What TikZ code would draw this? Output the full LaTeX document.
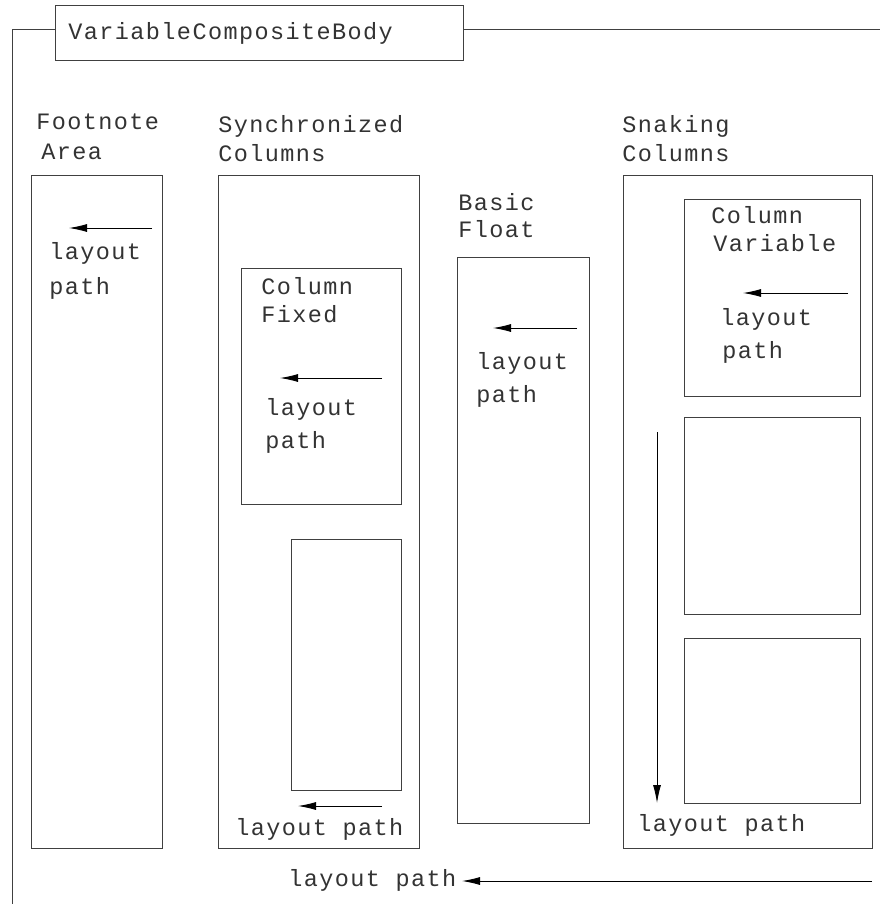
\documentclass[tikz,border=0pt]{standalone}
\usepackage{fontspec}
\setmainfont{Liberation Mono}[LetterSpace=6.0]
\usetikzlibrary{arrows.meta}

\begin{document}
\begin{tikzpicture}[x=1pt,y=-1pt,line width=0.9pt,
  frame/.style={draw=black!75},
  lbl/.style={anchor=base west,inner sep=0pt,text=black!80,font=\fontsize{23.5}{28}\selectfont},
  patharrow/.style={draw=black,-{Latex[length=18pt,width=8pt]}}]
\useasboundingbox (0,0) rectangle (880,904);

% body frame with its title
\node (title) [frame,anchor=north west,minimum height=55pt,text width=382pt,
      inner xsep=13pt,inner ysep=0pt,align=left,text=black!80,
      font=\fontsize{23.5}{28}\selectfont]
      at (55,5) {VariableCompositeBody};
\coordinate (corner) at (12,29);
\draw[frame] (title.west |- corner) -- (corner) -- (12,904);
\draw[frame] (title.east |- corner) -- (880,29);

% footnote area
\node[lbl] (fnA) at (36,130) {Footnote};
\node[lbl] (fnB) at (41,160) {Area};
\draw[frame] (31,175) rectangle (162,848);
\coordinate (fnS) at (152,228); \coordinate (fnE) at (69,228);
\draw[patharrow] (fnS) -- (fnE);
\node[lbl] (fnL) at (49,259) {layout};
\node[lbl] (fnP) at (49,294) {path};

% synchronized columns
\node[lbl] (syA) at (218,133) {Synchronized};
\node[lbl] (syB) at (218,162) {Columns};
\draw[frame] (218,175) rectangle (419,848);
\draw[frame] (241,268) rectangle (401,504);
\node[lbl] (cfA) at (261,294) {Column};
\node[lbl] (cfB) at (261,322) {Fixed};
\coordinate (cfS) at (382,378); \coordinate (cfE) at (280,378);
\draw[patharrow] (cfS) -- (cfE);
\node[lbl] (cfL) at (265,415) {layout};
\node[lbl] (cfP) at (265,448) {path};
\draw[frame] (291,539) rectangle (401,790);
\coordinate (syS) at (382,806); \coordinate (syE) at (298,806);
\draw[patharrow] (syS) -- (syE);
\node[lbl] (syL) at (235,835) {layout path};

% basic float
\node[lbl] (bfA) at (458,210) {Basic};
\node[lbl] (bfB) at (458,237) {Float};
\draw[frame] (457,257) rectangle (589,823);
\coordinate (bfS) at (577,328); \coordinate (bfE) at (493,328);
\draw[patharrow] (bfS) -- (bfE);
\node[lbl] (bfL) at (476,369) {layout};
\node[lbl] (bfP) at (476,402) {path};

% snaking columns
\node[lbl] (snA) at (622,133) {Snaking};
\node[lbl] (snB) at (622,162) {Columns};
\draw[frame] (623,175) rectangle (872,848);
\draw[frame] (684,199) rectangle (860,396);
\node[lbl] (cvA) at (711,223) {Column};
\node[lbl] (cvB) at (713,251) {Variable};
\coordinate (cvS) at (848,293); \coordinate (cvE) at (743,293);
\draw[patharrow] (cvS) -- (cvE);
\node[lbl] (cvL) at (720,325) {layout};
\node[lbl] (cvP) at (722,358) {path};
\draw[frame] (684,417) rectangle (860,614);
\draw[frame] (684,638) rectangle (860,803);
\coordinate (snS) at (657,432); \coordinate (snE) at (657,803);
\draw[patharrow] (snS) -- (snE);
\node[lbl] (snL) at (637,831) {layout path};

% body layout path
\coordinate (bdS) at (872,881); \coordinate (bdE) at (462,881);
\draw[patharrow] (bdS) -- (bdE);
\node[lbl] (bdL) at (288,886) {layout path};
\end{tikzpicture}
\end{document}
